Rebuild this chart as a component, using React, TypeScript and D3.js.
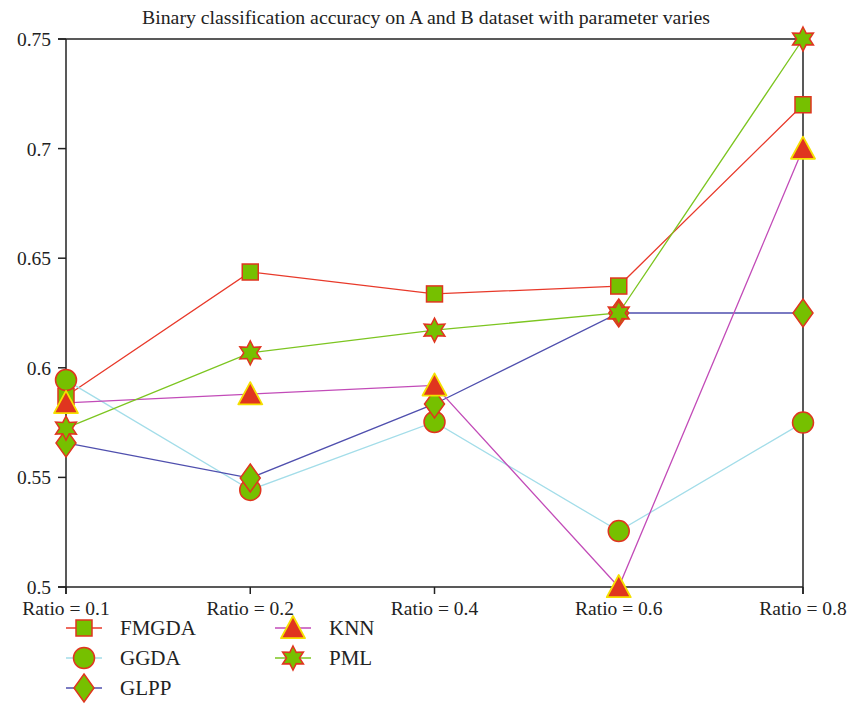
import React from "react";
import * as d3 from "d3";

const categories = ["Ratio = 0.1", "Ratio = 0.2", "Ratio = 0.4", "Ratio = 0.6", "Ratio = 0.8"];
const yTicks = [0.5, 0.55, 0.6, 0.65, 0.7, 0.75];
const seriesNames = ["FMGDA", "GGDA", "GLPP", "KNN", "PML"];
const fmgda = [0.587, 0.6437, 0.6337, 0.6373, 0.72];
const ggda = [0.5944, 0.5443, 0.5753, 0.5255, 0.575];
const glpp = [0.5657, 0.5497, 0.5835, 0.625, 0.625];
const knn = [0.584, 0.588, 0.592, 0.5, 0.7];
const pml = [0.5725, 0.6068, 0.6172, 0.625, 0.75];

const values = [fmgda, ggda, glpp, knn, pml];
const lineColors = ["#e8392a", "#a3dde9", "#4f4fae", "#c24bb8", "#7cc520"];
const shapes = ["square", "circle", "diamond", "triangle", "star"];

const W = 853, H = 720;
const left = 66, right = 803, top = 39, bottom = 587;
const font = "Liberation Serif, DejaVu Serif, serif";

const GREEN = "#76c000";
const RED = "#e0351f";

function Marker({ shape, x, y }: { shape: string; x: number; y: number }) {
  if (shape === "square") {
    return <rect x={x - 8} y={y - 8} width={16} height={16} fill={GREEN} stroke={RED} strokeWidth={1.5} />;
  }
  if (shape === "circle") {
    return <circle cx={x} cy={y} r={10.5} fill={GREEN} stroke={RED} strokeWidth={1.5} />;
  }
  if (shape === "diamond") {
    const r = 14, w = 10;
    return <path d={`M${x},${y - r}L${x + w},${y}L${x},${y + r}L${x - w},${y}Z`} fill={GREEN} stroke={RED} strokeWidth={1.5} />;
  }
  if (shape === "triangle") {
    const s = 12;
    return <path d={`M${x},${y - s}L${x + s},${y + s * 0.85}L${x - s},${y + s * 0.85}Z`} fill={RED} stroke="#f5e000" strokeWidth={1.8} strokeLinejoin="round" />;
  }
  const pts: string[] = [];
  const R = 12, r = 6.5;
  for (let i = 0; i < 12; i++) {
    const a = -Math.PI / 2 + (i * Math.PI) / 6;
    const rr = i % 2 === 0 ? R : r;
    pts.push(`${x + rr * Math.cos(a)},${y + rr * Math.sin(a)}`);
  }
  return <path d={`M${pts.join("L")}Z`} fill={GREEN} stroke={RED} strokeWidth={1.5} strokeLinejoin="miter" />;
}

export default function App() {
  const x = d3.scalePoint<string>().domain(categories).range([left, right]);
  const y = d3.scaleLinear().domain([0.5, 0.75]).range([bottom, top]);
  const line = d3.line<number>().x((_, i) => x(categories[i])!).y((d) => y(d));

  const legendPos = [
    { lx: 66, ly: 628 },
    { lx: 66, ly: 658 },
    { lx: 66, ly: 688 },
    { lx: 275, ly: 628 },
    { lx: 275, ly: 658 },
  ];

  return (
    <svg width={W} height={H} style={{ position: "absolute", left: 0, top: 0, background: "#fff" }}>
      <text x={426} y={24} textAnchor="middle" style={{ fontFamily: font }} fontSize={19.8} fill="#222">
        Binary classification accuracy on A and B dataset with parameter varies
      </text>
      <g stroke="#222" strokeWidth={1.5} fill="none">
        <line x1={left - 8} y1={top} x2={right} y2={top} />
        <line x1={left} y1={top} x2={left} y2={bottom + 7} />
        <line x1={left - 8} y1={bottom} x2={right} y2={bottom} />
        <line x1={right} y1={top} x2={right} y2={bottom + 7} />
        {yTicks.map((t) => (
          <line key={t} x1={left - 8} x2={left} y1={y(t)} y2={y(t)} />
        ))}
        {categories.map((c) => (
          <line key={c} x1={x(c)} x2={x(c)} y1={bottom} y2={bottom + 7} />
        ))}
      </g>
      {yTicks.map((t) => (
        <text key={t} x={left - 15} y={y(t) + 7} textAnchor="end" style={{ fontFamily: font }} fontSize={19.5} fill="#222">
          {d3.format("~g")(t)}
        </text>
      ))}
      {categories.map((c) => (
        <text key={c} x={x(c)} y={bottom + 28} textAnchor="middle" style={{ fontFamily: font }} fontSize={19.5} fill="#222">
          {c}
        </text>
      ))}
      {values.map((v, i) => (
        <path key={i} d={line(v)!} fill="none" stroke={lineColors[i]} strokeWidth={1.3} />
      ))}
      {values.map((v, i) =>
        v.map((d, j) => <Marker key={`${i}-${j}`} shape={shapes[i]} x={x(categories[j])!} y={y(d)} />)
      )}
      {seriesNames.map((n, i) => {
        const { lx, ly } = legendPos[i];
        return (
          <g key={n}>
            <line x1={lx} x2={lx + 36} y1={ly} y2={ly} stroke={lineColors[i]} strokeWidth={1.3} />
            <Marker shape={shapes[i]} x={lx + 18} y={ly} />
            <text x={lx + 54} y={ly + 7} style={{ fontFamily: font }} fontSize={21} fill="#222">
              {n}
            </text>
          </g>
        );
      })}
    </svg>
  );
}
